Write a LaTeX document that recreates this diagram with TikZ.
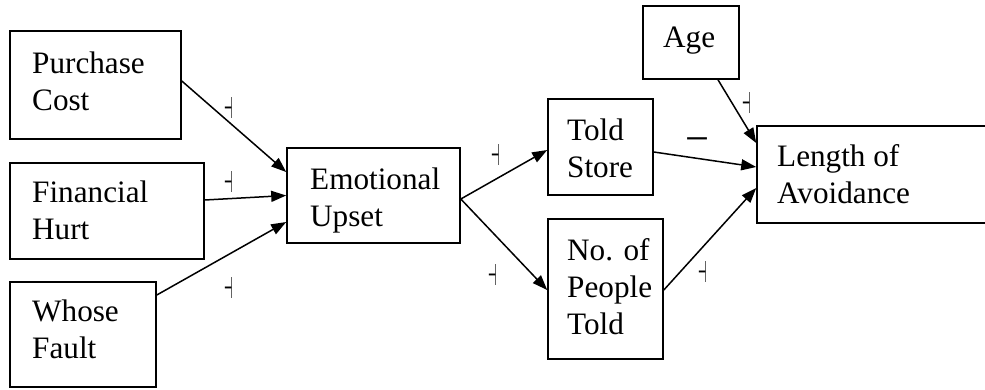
\documentclass[tikz,border=0pt]{standalone}
\usepackage{fontspec}
\usepackage{graphicx}
\setmainfont{Liberation Serif}
\newfontfamily\symfont{DejaVu Sans}
\usetikzlibrary{arrows.meta}
\newcommand\tacklabel{{\symfont\scalebox{0.33}[1]{⊣}}}
\tikzset{
  box/.style={draw, line width=1.6pt, inner sep=0pt},
  lbl/.style={anchor=base west, align=left, inner sep=0pt, font=\fontsize{31.2}{37}\selectfont},
  conn/.style={line width=1.5pt, -{Triangle[length=15pt,width=11pt]}},
  sign/.style={inner sep=0pt, font=\fontsize{30}{30}\selectfont},
}
\begin{document}
\begin{tikzpicture}[x=1pt,y=-1pt]
\useasboundingbox (0,0) rectangle (985,389);
% boxes
\node[box, minimum width=171pt, minimum height=108pt] (pc) at (95.5,85) {};
\node[box, minimum width=194pt, minimum height=96pt] (fh) at (107,211) {};
\node[box, minimum width=146pt, minimum height=105pt] (wf) at (83,334.5) {};
\node[box, minimum width=173pt, minimum height=95pt] (eu) at (373.5,195.5) {};
\node[box, minimum width=105pt, minimum height=96pt] (ts) at (600.5,147) {};
\node[box, minimum width=115pt, minimum height=140pt] (np) at (605.5,289) {};
\node[box, minimum width=96pt, minimum height=73pt] (age) at (691,42.5) {};
\node[box, minimum width=238pt, minimum height=97pt] (la) at (876,174.5) {};
% texts (anchor = baseline of the last line)
\node[lbl] (tpc) at (32,110) {Purchase\\Cost};
\node[lbl] (tfh) at (32,239) {Financial\\Hurt};
\node[lbl] (twf) at (32,358) {Whose\\Fault};
\node[lbl] (teu) at (310,226) {Emotional\\Upset};
\node[lbl] (tts) at (567,177) {Told\\Store};
\node[lbl] (tnp) at (567,334) {No. of\\People\\Told};
\node[lbl] (tage) at (663,47) {Age};
\node[lbl] (tla) at (777,203) {Length of\\Avoidance};
% connectors
\draw[conn] ([yshift=4pt]pc.east) -- ([yshift=23.5pt]eu.west);
\draw[conn] ([yshift=11pt]fh.east) -- (eu.west);
\draw[conn] ([yshift=39.5pt]wf.east) -- ([yshift=-26.5pt]eu.west);
\draw[conn] ([yshift=-3.5pt]eu.east) -- ([yshift=-3pt]ts.west);
\draw[conn] ([yshift=-3.5pt]eu.east) -- ([yshift=-1pt]np.west);
\draw[conn] ([yshift=-5pt]ts.east) -- ([yshift=7.5pt]la.west);
\draw[conn] ([xshift=27pt]age.south) -- ([yshift=31.5pt]la.west);
\draw[conn] ([yshift=-1pt]np.east) -- ([yshift=-13.5pt]la.west);
% signs
\node[sign] (s1) at (229,108) {\tacklabel};
\node[sign] (s2) at (229,182) {\tacklabel};
\node[sign] (s3) at (229,288) {\tacklabel};
\node[sign] (s4) at (496,155) {\tacklabel};
\node[sign] (s5) at (493,275) {\tacklabel};
\node[sign] (s6) at (747,103) {\tacklabel};
\node[sign] (s7) at (703,272) {\tacklabel};
\node[inner sep=0pt, font=\fontsize{34}{37}\selectfont] (s8) at (697,146) {\scalebox{1.25}[1.3]{−}};
\end{tikzpicture}
\end{document}
